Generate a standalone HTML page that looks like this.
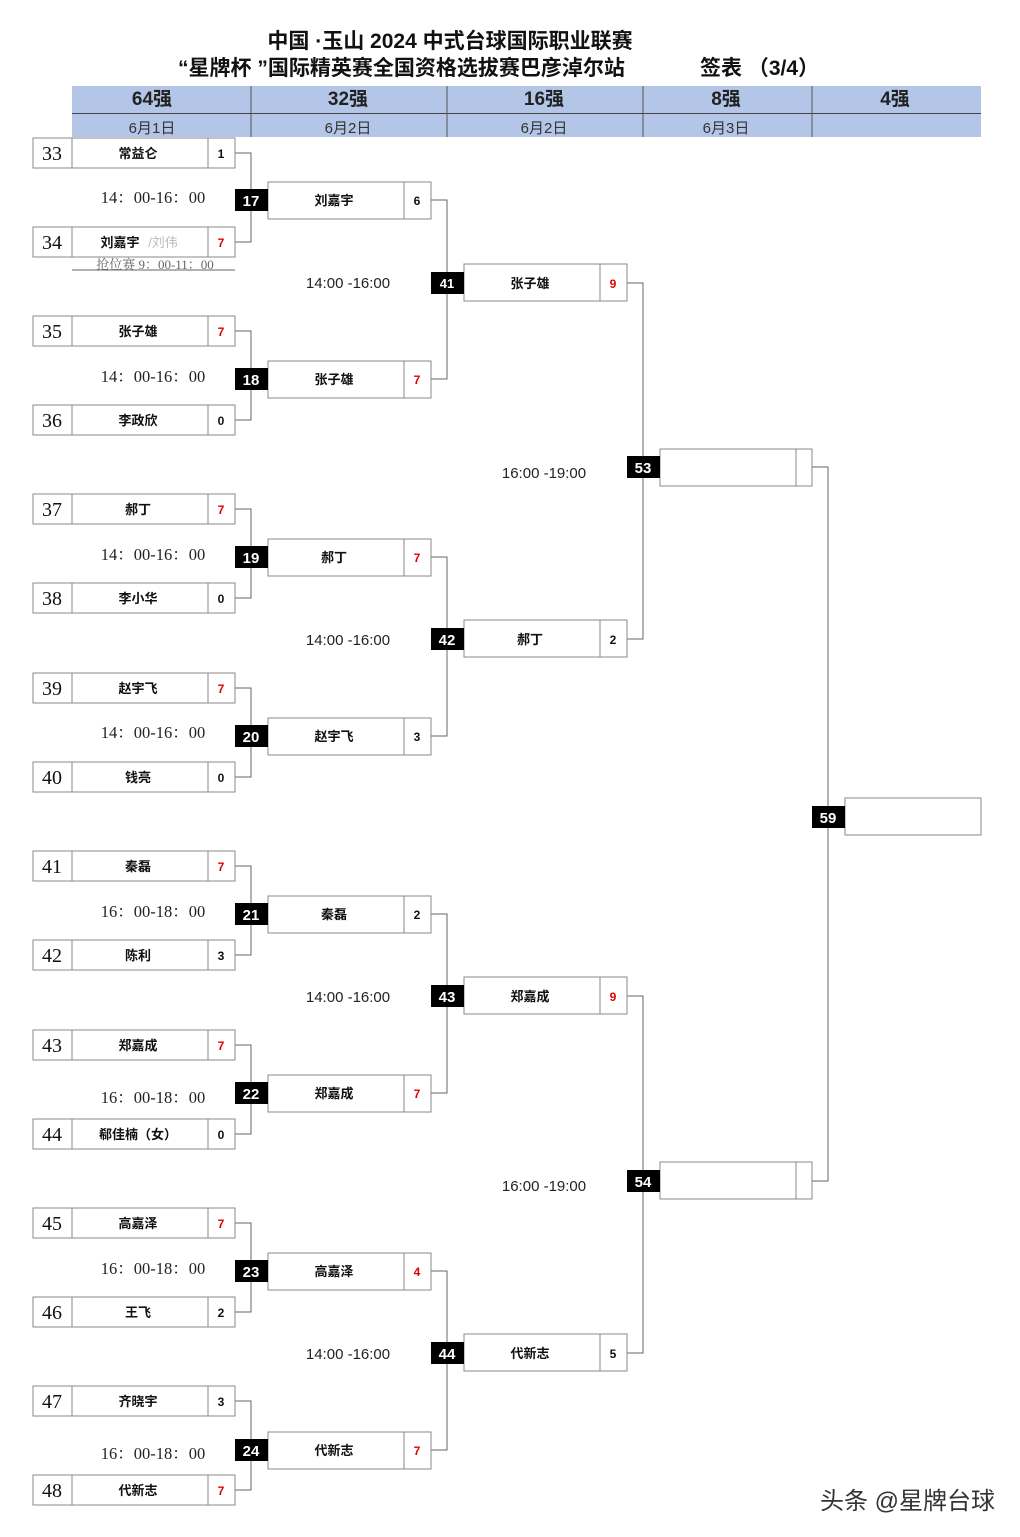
<!DOCTYPE html>
<html><head><meta charset="utf-8"><style>
html,body{margin:0;padding:0;background:#fff;}
svg{display:block;}
.n{font-family:"Liberation Serif","Noto Serif CJK SC",serif;font-size:20px;fill:#111;text-anchor:middle;}
.nm{font-family:"Liberation Sans","Noto Sans CJK SC",sans-serif;font-size:13px;font-weight:bold;fill:#111;text-anchor:middle;}
.sc{font-family:"Liberation Sans",sans-serif;font-size:12px;font-weight:bold;fill:#111;text-anchor:middle;}
.r{fill:#e00000;}
.lb{font-family:"Liberation Sans",sans-serif;font-size:15px;font-weight:bold;fill:#fff;text-anchor:middle;}
.t1{font-family:"Liberation Serif","Noto Serif CJK SC",serif;font-size:16.5px;fill:#222;text-anchor:middle;}
.t2{font-family:"Liberation Sans",sans-serif;font-size:15px;fill:#222;text-anchor:middle;}
.hd{font-family:"Liberation Sans","Noto Sans CJK SC",sans-serif;font-size:19px;font-weight:bold;fill:#222;text-anchor:middle;}
.hd2{font-family:"Liberation Sans","Noto Sans CJK SC",sans-serif;font-size:15px;fill:#333;text-anchor:middle;}
.ti{font-family:"Liberation Sans","Noto Sans CJK SC",sans-serif;font-size:21px;font-weight:bold;fill:#111;}
</style></head><body>
<svg width="1020" height="1537" viewBox="0 0 1020 1537" xmlns="http://www.w3.org/2000/svg">
<text class="ti" x="450" y="48" text-anchor="middle">中国 ·玉山  2024 中式台球国际职业联赛</text>
<text class="ti" x="178" y="75">“星牌杯 ”国际精英赛全国资格选拔赛巴彦淖尔站</text>
<text class="ti" x="700" y="75">签表 （3/4）</text>
<rect x="72" y="86" width="909" height="51" fill="#b4c6e7"/>
<line x1="72" y1="113.5" x2="981" y2="113.5" stroke="#444" stroke-width="1"/>
<g stroke="#555" stroke-width="1"><line x1="251" y1="86" x2="251" y2="137"/><line x1="447" y1="86" x2="447" y2="137"/><line x1="643" y1="86" x2="643" y2="137"/><line x1="812" y1="86" x2="812" y2="137"/></g>
<text class="hd" x="152" y="105">64强</text><text class="hd" x="348" y="105">32强</text><text class="hd" x="544" y="105">16强</text><text class="hd" x="726" y="105">8强</text><text class="hd" x="895" y="105">4强</text>
<text class="hd2" x="152" y="133">6月1日</text><text class="hd2" x="348" y="133">6月2日</text><text class="hd2" x="544" y="133">6月2日</text><text class="hd2" x="726" y="133">6月3日</text>

<g fill="none" stroke="#666" stroke-width="1">
<path d="M235 153H251V242H235M235 331H251V420H235M235 509H251V598H235M235 688H251V777H235M235 866H251V955H235M235 1045H251V1134H235M235 1223H251V1312H235M235 1401H251V1490H235"/>
<path d="M431 200H447V379H431M431 557H447V736H431M431 914H447V1093H431M431 1271H447V1450H431"/>
<path d="M627 283H643V639H627M627 996H643V1353H627"/>
<path d="M812 467H828V1181H812"/>
<line x1="72" y1="270" x2="235" y2="270"/>
</g>

<g fill="#fff" stroke="#888" stroke-width="1">
<rect x="33" y="138" width="202" height="30"/><rect x="33" y="227" width="202" height="30"/>
<rect x="33" y="316" width="202" height="30"/><rect x="33" y="405" width="202" height="30"/>
<rect x="33" y="494" width="202" height="30"/><rect x="33" y="583" width="202" height="30"/>
<rect x="33" y="673" width="202" height="30"/><rect x="33" y="762" width="202" height="30"/>
<rect x="33" y="851" width="202" height="30"/><rect x="33" y="940" width="202" height="30"/>
<rect x="33" y="1030" width="202" height="30"/><rect x="33" y="1119" width="202" height="30"/>
<rect x="33" y="1208" width="202" height="30"/><rect x="33" y="1297" width="202" height="30"/>
<rect x="33" y="1386" width="202" height="30"/><rect x="33" y="1475" width="202" height="30"/>
<rect x="268" y="182" width="163" height="37"/><rect x="268" y="361" width="163" height="37"/>
<rect x="268" y="539" width="163" height="37"/><rect x="268" y="718" width="163" height="37"/>
<rect x="268" y="896" width="163" height="37"/><rect x="268" y="1075" width="163" height="37"/>
<rect x="268" y="1253" width="163" height="37"/><rect x="268" y="1432" width="163" height="37"/>
<rect x="464" y="264" width="163" height="37"/><rect x="464" y="620" width="163" height="37"/>
<rect x="464" y="977" width="163" height="37"/><rect x="464" y="1334" width="163" height="37"/>
<rect x="660" y="449" width="152" height="37"/><rect x="660" y="1162" width="152" height="37"/>
<rect x="845" y="798" width="136" height="37"/>
</g>
<g stroke="#888" stroke-width="1">
<path d="M72 138V168M208 138V168M72 227V257M208 227V257M72 316V346M208 316V346M72 405V435M208 405V435M72 494V524M208 494V524M72 583V613M208 583V613M72 673V703M208 673V703M72 762V792M208 762V792M72 851V881M208 851V881M72 940V970M208 940V970M72 1030V1060M208 1030V1060M72 1119V1149M208 1119V1149M72 1208V1238M208 1208V1238M72 1297V1327M208 1297V1327M72 1386V1416M208 1386V1416M72 1475V1505M208 1475V1505"/>
<path d="M404 182V219M404 361V398M404 539V576M404 718V755M404 896V933M404 1075V1112M404 1253V1290M404 1432V1469"/>
<path d="M600 264V301M600 620V657M600 977V1014M600 1334V1371M796 449V486M796 1162V1199"/>
</g>

<g>
<text class="n" x="52" y="160">33</text><text class="nm" x="138" y="158">常益仑</text><text class="sc" x="221" y="158">1</text>
<text class="n" x="52" y="249">34</text><text class="nm" x="120" y="247">刘嘉宇</text><text class="nm" x="163" y="247" style="fill:#bbb;font-weight:normal">/刘伟</text><text class="sc r" x="221" y="247">7</text>
<text class="n" x="52" y="338">35</text><text class="nm" x="138" y="336">张子雄</text><text class="sc r" x="221" y="336">7</text>
<text class="n" x="52" y="427">36</text><text class="nm" x="138" y="425">李政欣</text><text class="sc" x="221" y="425">0</text>
<text class="n" x="52" y="516">37</text><text class="nm" x="138" y="514">郝丁</text><text class="sc r" x="221" y="514">7</text>
<text class="n" x="52" y="605">38</text><text class="nm" x="138" y="603">李小华</text><text class="sc" x="221" y="603">0</text>
<text class="n" x="52" y="695">39</text><text class="nm" x="138" y="693">赵宇飞</text><text class="sc r" x="221" y="693">7</text>
<text class="n" x="52" y="784">40</text><text class="nm" x="138" y="782">钱亮</text><text class="sc" x="221" y="782">0</text>
<text class="n" x="52" y="873">41</text><text class="nm" x="138" y="871">秦磊</text><text class="sc r" x="221" y="871">7</text>
<text class="n" x="52" y="962">42</text><text class="nm" x="138" y="960">陈利</text><text class="sc" x="221" y="960">3</text>
<text class="n" x="52" y="1052">43</text><text class="nm" x="138" y="1050">郑嘉成</text><text class="sc r" x="221" y="1050">7</text>
<text class="n" x="52" y="1141">44</text><text class="nm" x="138" y="1139">郗佳楠（女）</text><text class="sc" x="221" y="1139">0</text>
<text class="n" x="52" y="1230">45</text><text class="nm" x="138" y="1228">高嘉泽</text><text class="sc r" x="221" y="1228">7</text>
<text class="n" x="52" y="1319">46</text><text class="nm" x="138" y="1317">王飞</text><text class="sc" x="221" y="1317">2</text>
<text class="n" x="52" y="1408">47</text><text class="nm" x="138" y="1406">齐晓宇</text><text class="sc" x="221" y="1406">3</text>
<text class="n" x="52" y="1497">48</text><text class="nm" x="138" y="1495">代新志</text><text class="sc r" x="221" y="1495">7</text>
</g>
<text class="t1" x="155" y="269" style="font-size:13px;fill:#666">抢位赛 9：00-11：00</text>

<g>
<text class="t1" x="153" y="203">14：00-16：00</text><text class="t1" x="153" y="382">14：00-16：00</text>
<text class="t1" x="153" y="560">14：00-16：00</text><text class="t1" x="153" y="738">14：00-16：00</text>
<text class="t1" x="153" y="917">16：00-18：00</text><text class="t1" x="153" y="1103">16：00-18：00</text>
<text class="t1" x="153" y="1274">16：00-18：00</text><text class="t1" x="153" y="1459">16：00-18：00</text>
<text class="t2" x="348" y="288">14:00 -16:00</text><text class="t2" x="348" y="645">14:00 -16:00</text>
<text class="t2" x="348" y="1002">14:00 -16:00</text><text class="t2" x="348" y="1359">14:00 -16:00</text>
<text class="t2" x="544" y="478">16:00 -19:00</text><text class="t2" x="544" y="1191">16:00 -19:00</text>
</g>

<g fill="#000">
<rect x="235" y="189" width="33" height="22"/><rect x="235" y="368" width="33" height="22"/>
<rect x="235" y="546" width="33" height="22"/><rect x="235" y="725" width="33" height="22"/>
<rect x="235" y="903" width="33" height="22"/><rect x="235" y="1082" width="33" height="22"/>
<rect x="235" y="1260" width="33" height="22"/><rect x="235" y="1439" width="33" height="22"/>
<rect x="431" y="272" width="33" height="22"/><rect x="431" y="628" width="33" height="22"/>
<rect x="431" y="985" width="33" height="22"/><rect x="431" y="1342" width="33" height="22"/>
<rect x="627" y="456" width="33" height="22"/><rect x="627" y="1170" width="33" height="22"/>
<rect x="812" y="806" width="33" height="22"/>
</g>
<g>
<text class="lb" x="251" y="206">17</text><text class="lb" x="251" y="385">18</text><text class="lb" x="251" y="563">19</text><text class="lb" x="251" y="742">20</text>
<text class="lb" x="251" y="920">21</text><text class="lb" x="251" y="1099">22</text><text class="lb" x="251" y="1277">23</text><text class="lb" x="251" y="1456">24</text>
<text class="lb" x="447" y="288" style="font-size:13px">41</text><text class="lb" x="447" y="645">42</text><text class="lb" x="447" y="1002">43</text><text class="lb" x="447" y="1359">44</text>
<text class="lb" x="643" y="473">53</text><text class="lb" x="643" y="1187">54</text><text class="lb" x="828" y="823">59</text>
</g>
<g>
<text class="nm" x="334" y="205">刘嘉宇</text><text class="sc" x="417" y="205">6</text>
<text class="nm" x="334" y="384">张子雄</text><text class="sc r" x="417" y="384">7</text>
<text class="nm" x="334" y="562">郝丁</text><text class="sc r" x="417" y="562">7</text>
<text class="nm" x="334" y="741">赵宇飞</text><text class="sc" x="417" y="741">3</text>
<text class="nm" x="334" y="919">秦磊</text><text class="sc" x="417" y="919">2</text>
<text class="nm" x="334" y="1098">郑嘉成</text><text class="sc r" x="417" y="1098">7</text>
<text class="nm" x="334" y="1276">高嘉泽</text><text class="sc r" x="417" y="1276">4</text>
<text class="nm" x="334" y="1455">代新志</text><text class="sc r" x="417" y="1455">7</text>
<text class="nm" x="530" y="288">张子雄</text><text class="sc r" x="613" y="288">9</text>
<text class="nm" x="530" y="644">郝丁</text><text class="sc" x="613" y="644">2</text>
<text class="nm" x="530" y="1001">郑嘉成</text><text class="sc r" x="613" y="1001">9</text>
<text class="nm" x="530" y="1358">代新志</text><text class="sc" x="613" y="1358">5</text>
</g>
<text x="995" y="1509" text-anchor="end" style="font-family:'Liberation Sans','Noto Sans CJK SC',sans-serif;font-size:24px;fill:#333">头条 @星牌台球</text>
</svg>
</body></html>
